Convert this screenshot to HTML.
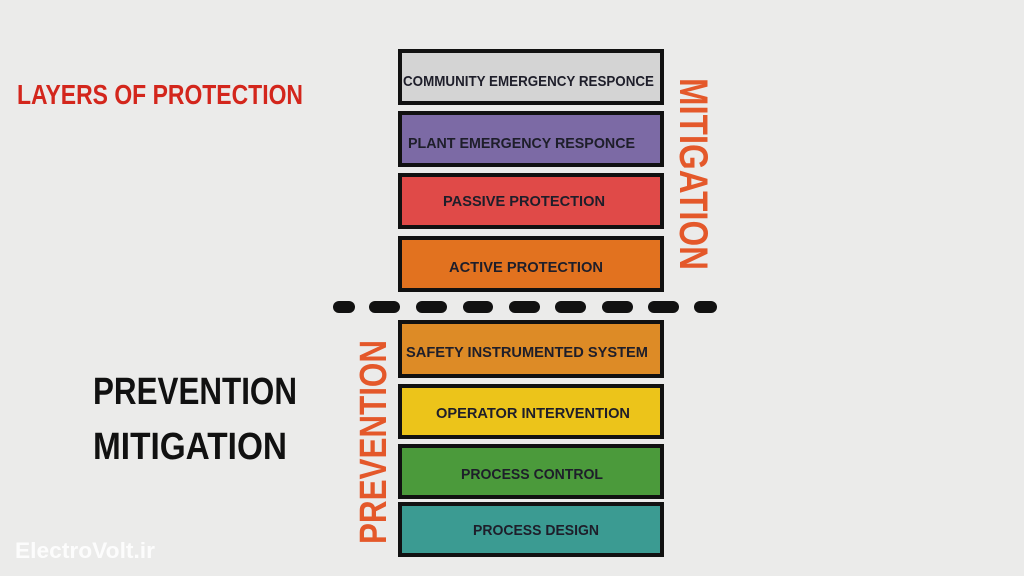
<!DOCTYPE html>
<html><head><meta charset="utf-8"><style>
html,body{margin:0;padding:0;background:#ebebea;}
svg{display:block}
text{font-family:"Liberation Sans",sans-serif;font-weight:bold;}
</style></head><body>
<svg width="1024" height="576" viewBox="0 0 1024 576">
<rect width="1024" height="576" fill="#ebebea"/>
<text x="17" y="104" font-size="28" fill="#d3261c" textLength="286" lengthAdjust="spacingAndGlyphs">LAYERS OF PROTECTION</text>
<text x="93" y="404" font-size="38" fill="#111" textLength="204" lengthAdjust="spacingAndGlyphs">PREVENTION</text>
<text x="93" y="459" font-size="38" fill="#111" textLength="194" lengthAdjust="spacingAndGlyphs">MITIGATION</text>
<g stroke="#111" stroke-width="4">
<rect x="400" y="51" width="262" height="52" fill="#d4d4d4"/>
<rect x="400" y="113" width="262" height="52" fill="#7c6aa5"/>
<rect x="400" y="175" width="262" height="52" fill="#e04a48"/>
<rect x="400" y="238" width="262" height="52" fill="#e2721f"/>
<rect x="400" y="322" width="262" height="54" fill="#dd8b26"/>
<rect x="400" y="386" width="262" height="51" fill="#ecc41a"/>
<rect x="400" y="446" width="262" height="51" fill="#4b9a3b"/>
<rect x="400" y="504" width="262" height="51" fill="#3b9b92"/>
</g>
<g fill="#1e1e2a" font-size="15">
<text x="403" y="86" textLength="251" lengthAdjust="spacingAndGlyphs">COMMUNITY EMERGENCY RESPONCE</text>
<text x="408" y="148" textLength="227" lengthAdjust="spacingAndGlyphs">PLANT EMERGENCY RESPONCE</text>
<text x="443" y="206" textLength="162" lengthAdjust="spacingAndGlyphs">PASSIVE PROTECTION</text>
<text x="449" y="272" textLength="154" lengthAdjust="spacingAndGlyphs">ACTIVE PROTECTION</text>
<text x="406" y="357" textLength="242" lengthAdjust="spacingAndGlyphs">SAFETY INSTRUMENTED SYSTEM</text>
<text x="436" y="418" textLength="194" lengthAdjust="spacingAndGlyphs">OPERATOR INTERVENTION</text>
<text x="461" y="479" textLength="142" lengthAdjust="spacingAndGlyphs">PROCESS CONTROL</text>
<text x="473" y="535" textLength="126" lengthAdjust="spacingAndGlyphs">PROCESS DESIGN</text>
</g>
<g fill="#111">
<rect x="333" y="301" width="22" height="12" rx="6"/>
<rect x="369" y="301" width="31" height="12" rx="6"/>
<rect x="416" y="301" width="31" height="12" rx="6"/>
<rect x="463" y="301" width="30" height="12" rx="6"/>
<rect x="509" y="301" width="31" height="12" rx="6"/>
<rect x="555" y="301" width="31" height="12" rx="6"/>
<rect x="602" y="301" width="31" height="12" rx="6"/>
<rect x="648" y="301" width="31" height="12" rx="6"/>
<rect x="694" y="301" width="23" height="12" rx="6"/>
</g>
<text transform="translate(680,78) rotate(90)" font-size="40" fill="#e4582a" textLength="192" lengthAdjust="spacingAndGlyphs">MITIGATION</text>
<text transform="translate(386,544) rotate(-90)" font-size="38" fill="#e4582a" textLength="204" lengthAdjust="spacingAndGlyphs">PREVENTION</text>
<text x="15" y="558" font-size="22" fill="#ffffff" fill-opacity="0.85" textLength="140" lengthAdjust="spacingAndGlyphs">ElectroVolt.ir</text>
</svg>
</body></html>
